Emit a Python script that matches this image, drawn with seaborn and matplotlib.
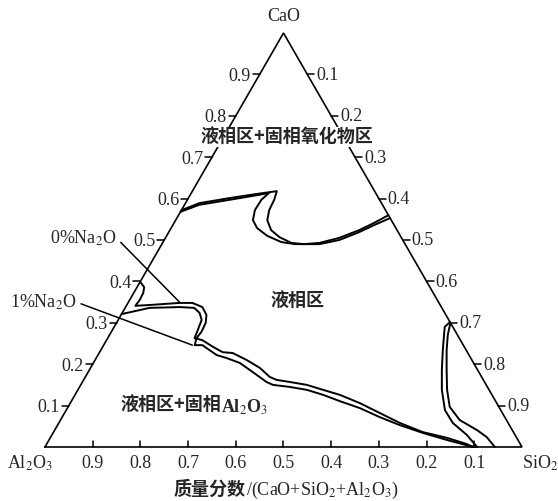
import numpy as np
import pandas as pd
import matplotlib
matplotlib.use("Agg")
import matplotlib.pyplot as plt
import seaborn as sns

# Phase boundaries in the CaO-SiO2-Al2O3 system, given as mass fractions
# of CaO and SiO2 (Al2O3 = 1 - CaO - SiO2).

# liquid / solid-oxide boundary (upper cusp), two Na2O levels
oxide_outer_cao = [0.572, 0.589, 0.601, 0.611, 0.618, 0.597, 0.572, 0.548, 0.524,
                   0.507, 0.493, 0.490, 0.493, 0.505, 0.524, 0.541, 0.560]
oxide_outer_sio2 = [0.000, 0.029, 0.085, 0.137, 0.177, 0.182, 0.184, 0.192, 0.212,
                    0.238, 0.270, 0.298, 0.329, 0.364, 0.397, 0.419, 0.440]
oxide_inner_cao = [0.568, 0.585, 0.597, 0.609, 0.614, 0.597, 0.572, 0.548, 0.529,
                   0.510, 0.495, 0.490, 0.490, 0.500, 0.519, 0.536, 0.553]
oxide_inner_sio2 = [0.000, 0.031, 0.088, 0.144, 0.163, 0.155, 0.154, 0.162, 0.180,
                    0.211, 0.248, 0.279, 0.330, 0.367, 0.399, 0.422, 0.447]

# liquid / solid Al2O3 boundary, 0 % Na2O
alumina_0_cao = [0.399, 0.386, 0.372, 0.355, 0.341, 0.343, 0.348, 0.348, 0.338, 0.319,
                 0.300, 0.278, 0.263, 0.246, 0.246, 0.234, 0.222, 0.215, 0.203, 0.181,
                 0.157, 0.150, 0.145, 0.138, 0.126, 0.111, 0.094, 0.072, 0.053, 0.034,
                 0.017, 0.002, 0.000]
alumina_0_sio2 = [0.000, 0.015, 0.020, 0.021, 0.019, 0.048, 0.108, 0.135, 0.161, 0.179,
                  0.187, 0.189, 0.186, 0.191, 0.207, 0.228, 0.249, 0.273, 0.307, 0.345,
                  0.386, 0.403, 0.441, 0.480, 0.520, 0.562, 0.613, 0.666, 0.717, 0.775,
                  0.834, 0.890, 0.904]

# liquid / solid Al2O3 boundary, 1 % Na2O
alumina_1_cao = [0.321, 0.336, 0.338, 0.336, 0.324, 0.307, 0.283, 0.263, 0.258, 0.242,
                 0.229, 0.227, 0.210, 0.191, 0.169, 0.162, 0.157, 0.150, 0.138, 0.126,
                 0.106, 0.082, 0.058, 0.036, 0.022, 0.007, 0.000]
alumina_1_sio2 = [0.000, 0.051, 0.113, 0.145, 0.162, 0.175, 0.179, 0.182, 0.201, 0.231,
                  0.258, 0.280, 0.318, 0.355, 0.387, 0.405, 0.435, 0.474, 0.514, 0.555,
                  0.607, 0.661, 0.715, 0.774, 0.832, 0.881, 0.897]

# silica-rich boundary, two Na2O levels
silica_a_cao = [0.302, 0.290, 0.234, 0.186, 0.138, 0.089, 0.058, 0.029, 0.012, 0.000]
silica_a_sio2 = [0.698, 0.693, 0.717, 0.739, 0.763, 0.794, 0.826, 0.870, 0.891, 0.906]
silica_b_cao = [0.300, 0.271, 0.234, 0.186, 0.138, 0.097, 0.065, 0.041, 0.024, 0.005, 0.000]
silica_b_sio2 = [0.700, 0.709, 0.725, 0.749, 0.774, 0.800, 0.837, 0.885, 0.914, 0.937, 0.943]

# points the Na2O labels refer to (CaO, SiO2)
label_0_point = (0.350, 0.107)
label_1_point = (0.246, 0.186)

tick_values = [0.1, 0.2, 0.3, 0.4, 0.5, 0.6, 0.7, 0.8, 0.9]
vertex_labels = ["CaO", "Al$_2$O$_3$", "SiO$_2$"]

SQ = np.sqrt(3) / 2


def to_xy(cao, sio2):
    cao = np.asarray(cao, dtype=float)
    sio2 = np.asarray(sio2, dtype=float)
    return sio2 + cao / 2, cao * SQ


sns.set_theme(style="white")
plt.rcParams["font.family"] = ["Liberation Serif", "Noto Sans CJK SC"]
plt.rcParams["mathtext.fontset"] = "stix"
CJK = "Noto Sans CJK SC"

fig = plt.figure(figsize=(5.58, 5.01), dpi=100)
ax = fig.add_axes([0, 0, 1, 1])
ax.set_xlim(-0.0943, 1.0755)
ax.set_ylim(-0.113, 0.9351)
ax.axis("off")

# triangle frame
ax.plot([0, 1, 0.5, 0], [0, 0, SQ, 0], color="black", lw=1.2, solid_joinstyle="miter")

dx, dy = 0.0147, 0.0126
for v in tick_values:
    # left edge: CaO fraction
    x, y = to_xy(v, 0.0)
    ax.plot([x - dx, x], [y, y], color="black", lw=1.1)
    ax.text(x - dx - 0.004, y - 0.004, f"{v:.1f}", ha="right", va="center", fontsize=13)
    # right edge: SiO2 fraction
    x, y = to_xy(1 - v, v)
    ax.plot([x, x + dx], [y, y], color="black", lw=1.1)
    ax.text(x + dx + 0.004, y - 0.002, f"{v:.1f}", ha="left", va="center", fontsize=13)
    # base: Al2O3 fraction
    x, y = to_xy(0.0, 1 - v)
    ax.plot([x, x], [0, dy], color="black", lw=1.1)
    ax.text(x, -0.035, f"{v:.1f}", ha="center", va="center", fontsize=13)

# vertex labels
ax.text(0.5, 0.900, vertex_labels[0], ha="center", va="center", fontsize=13)
ax.text(-0.031, -0.035, vertex_labels[1], ha="center", va="center", fontsize=13)
ax.text(1.038, -0.035, vertex_labels[2], ha="center", va="center", fontsize=13)

# boundary curves
curves = [
    (oxide_outer_cao, oxide_outer_sio2),
    (oxide_inner_cao, oxide_inner_sio2),
    (alumina_0_cao, alumina_0_sio2),
    (alumina_1_cao, alumina_1_sio2),
    (silica_a_cao, silica_a_sio2),
    (silica_b_cao, silica_b_sio2),
]
for cao, sio2 in curves:
    x, y = to_xy(cao, sio2)
    df = pd.DataFrame({"x": x, "y": y})
    sns.lineplot(data=df, x="x", y="y", sort=False, estimator=None, ax=ax,
                 color="black", lw=1.4, legend=False)

# Na2O labels with leader lines
for text, pt, pos in [("0%Na$_2$O", label_0_point, (0.150, 0.437)),
                      ("1%Na$_2$O", label_1_point, (0.066, 0.303))]:
    ax.annotate(text, xy=to_xy(*pt), xytext=pos, ha="right", va="center", fontsize=13,
                arrowprops=dict(arrowstyle="-", color="black", lw=1.1,
                                shrinkA=1, shrinkB=0, relpos=(1.0, 0.5)))

# region labels
ax.text(0.507, 0.648, "液相区+固相氧化物区", family=CJK, fontweight="bold",
        ha="center", va="center", fontsize=13, zorder=5,
        bbox=dict(facecolor="white", edgecolor="none", pad=0.5))
ax.text(0.530, 0.305, "液相区", family=CJK, fontweight="bold",
        ha="center", va="center", fontsize=13)
ax.text(0.369, 0.088, "液相区+固相", family=CJK, fontweight="bold",
        ha="right", va="center", fontsize=13)
ax.text(0.369, 0.084, "Al$_2$O$_3$", fontweight="bold",
        ha="left", va="center", fontsize=13)

# axis title
ax.text(0.421, -0.088, "质量分数", family=CJK, fontweight="bold",
        ha="right", va="center", fontsize=13)
ax.text(0.421, -0.090, "/(CaO+SiO$_2$+Al$_2$O$_3$)", ha="left", va="center", fontsize=13)

fig.savefig("out.png", dpi=100, facecolor="white")
